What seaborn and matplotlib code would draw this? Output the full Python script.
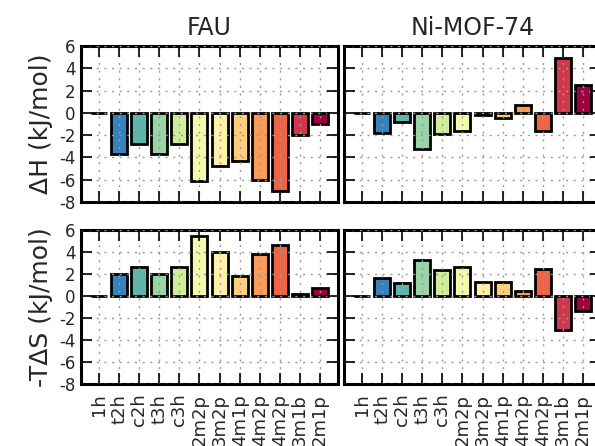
import numpy as np
import pandas as pd
import matplotlib
matplotlib.use("Agg")
import matplotlib.pyplot as plt
import seaborn as sns

categories = ["1h", "t2h", "c2h", "t3h", "c3h", "2m2p", "3m2p", "4m1p", "4m2p", "4m2p", "3m1b", "2m1p"]
fau_dH = [0.0, -3.7, -2.75, -3.7, -2.75, -6.1, -4.8, -4.3, -6.0, -7.0, -2.0, -1.0]
fau_TdS = [0.0, 2.0, 2.65, 2.0, 2.65, 5.45, 4.0, 1.8, 3.8, 4.65, 0.18, 0.72]
mof_dH = [0.0, -1.85, -0.8, -3.25, -1.9, -1.6, -0.2, -0.5, 0.7, -1.6, 4.9, 2.5]
mof_TdS = [0.0, 1.6, 1.18, 3.27, 2.36, 2.64, 1.24, 1.24, 0.45, 2.42, -3.05, -1.4]
titles = ["FAU", "Ni-MOF-74"]
ylabels = ["ΔH (kJ/mol)", "-TΔS (kJ/mol)"]
yticks = [-8, -6, -4, -2, 0, 2, 4, 6]

sns.set_style("white")
plt.rcParams['font.family'] = ['DejaVu Sans']

colors = [plt.cm.Spectral_r(v) for v in np.linspace(0, 1, len(categories))]
pos = list(range(len(categories)))

fig = plt.figure(figsize=(5.95, 4.46), dpi=100)
W = 257 / 595
boxes = {
    (0, 0): [81 / 595, 1 - 202 / 446, W, 156 / 446],
    (0, 1): [344 / 595, 1 - 202 / 446, W, 156 / 446],
    (1, 0): [81 / 595, 1 - 384 / 446, W, 154 / 446],
    (1, 1): [344 / 595, 1 - 384 / 446, W, 154 / 446],
}
data = {(0, 0): fau_dH, (0, 1): mof_dH, (1, 0): fau_TdS, (1, 1): mof_TdS}

for (r, c), box in boxes.items():
    ax = fig.add_axes(box)
    df = pd.DataFrame({"pos": pos, "val": data[(r, c)]})
    sns.barplot(data=df, x="pos", y="val", hue="pos", palette=colors, legend=False,
                width=0.8, edgecolor="black", linewidth=2, saturation=1, ax=ax)
    ax.set_xlim(-0.9, len(categories) - 0.1)
    ax.set_ylim(-8, 6)
    ax.set_yticks(yticks)
    ax.set_xticks(pos)
    ax.grid(True, color="#999999", linestyle=(0, (1.5, 4)), linewidth=1)
    ax.set_axisbelow(False)
    for s in ax.spines.values():
        s.set_linewidth(2.2)
        s.set_color("black")
    ax.set_xlabel("")
    if r == 1:
        ax.set_xticklabels(categories, rotation=90, fontsize=13)
    else:
        ax.set_xticklabels([])
        ax.set_title(titles[c], fontsize=17, pad=8)
    if c == 0:
        ax.set_ylabel(ylabels[r], fontsize=18, labelpad=4)
        ax.set_yticklabels([str(t) for t in yticks])
    else:
        ax.set_ylabel("")
        ax.set_yticklabels([])
    ax.tick_params(axis="both", which="major", direction="in", length=8, width=1.2,
                   bottom=True, left=True, top=True, right=True, labelsize=12,
                   color="black", pad=4)
    ax.tick_params(axis="x", labelsize=13, pad=7)

fig.savefig("out.png", dpi=100)
